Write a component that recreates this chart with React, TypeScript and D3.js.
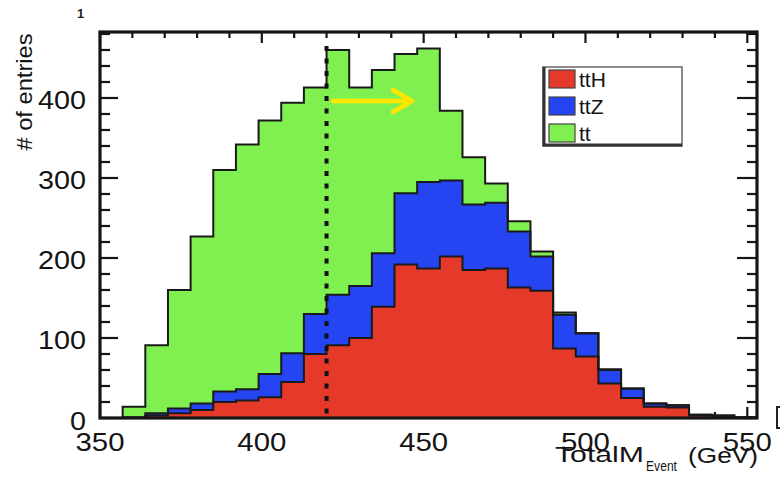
import React from "react";
import * as d3 from "d3";

// ---- data ----
const BIN_START = 350;
const BIN_WIDTH = 7;
const ttH = [0, 0, 3, 6, 10, 20, 22, 26, 45, 80, 91, 100, 139, 192, 187, 202, 185, 187, 163, 159, 87, 77, 43, 25, 14, 13, 3, 1, 0];
const ttZ = [0, 1, 3, 6, 8, 13, 14, 29, 36, 50, 63, 65, 67, 89, 108, 95, 82, 82, 70, 43, 42, 29, 17, 12, 4, 3, 1, 2, 1];
const tt = [0, 13, 85, 148, 209, 277, 306, 317, 313, 283, 306, 248, 229, 174, 167, 87, 59, 24, 13, 6, 3, 0, 1, 0, 0, 0, 0, 0, 0];
const SERIES_KEYS = ["ttH", "ttZ", "tt"];
const SERIES_COLORS = ["#e53a2a", "#2545f2", "#80ef50"];
const X_TICKS = [350, 400, 450, 500, 550];
const Y_TICKS = [0, 100, 200, 300, 400];
const CUT_VALUE = 420;
const X_DOMAIN = [350, 553];
const Y_DOMAIN = [0, 482.5];

const FONT = "'Liberation Sans', Arial, Helvetica, sans-serif";

export default function App() {
  const L = 100, R = 757, T = 32, B = 418;
  const x = d3.scaleLinear().domain(X_DOMAIN).range([L, R]);
  const y = d3.scaleLinear().domain(Y_DOMAIN).range([B, T]);

  const series: Record<string, number[]> = { ttH, ttZ, tt };
  const rows = ttH.map((_, i) => {
    const r: any = { x: BIN_START + i * BIN_WIDTH };
    SERIES_KEYS.forEach((k) => (r[k] = series[k][i]));
    return r;
  });
  const last = { ...rows[rows.length - 1], x: BIN_START + rows.length * BIN_WIDTH };
  const allRows = [...rows, last];
  const stacked = d3.stack<any>().keys(SERIES_KEYS)(allRows);

  const area = d3
    .area<any>()
    .x((d) => x(d.data.x))
    .y0((d) => y(d[0]))
    .y1((d) => y(d[1]))
    .curve(d3.curveStepAfter);
  const topLine = d3
    .line<any>()
    .x((d) => x(d.data.x))
    .y((d) => y(d[1]))
    .curve(d3.curveStepAfter);

  const xMinor = d3.range(350, 551, 10);
  const yMinor = d3.range(0, 481, 20);

  const axisColor = "#151515";
  const xc = x(CUT_VALUE);

  return (
    <svg width={780} height={481} style={{ position: "absolute", left: 0, top: 0, background: "#fff" }}>
      <rect x={0} y={0} width={780} height={481} fill="#fff" />
      {/* ticks (under the fill) */}
      <g stroke={axisColor} strokeWidth={2.2}>
        {xMinor.map((v) => {
          const major = v % 50 === 0;
          const len = major ? 11 : 6;
          return (
            <g key={"xt" + v}>
              <line x1={x(v)} x2={x(v)} y1={T} y2={T + len} />
              <line x1={x(v)} x2={x(v)} y1={B} y2={B - len} />
            </g>
          );
        })}
        {yMinor.map((v) => {
          const major = v % 100 === 0;
          return (
            <g key={"yt" + v}>
              <line x1={L} x2={L + (major ? 18 : 10)} y1={y(v)} y2={y(v)} />
              <line x1={R} x2={R - (major ? 20 : 10)} y1={y(v)} y2={y(v)} />
            </g>
          );
        })}
      </g>

      {/* stacked histogram */}
      {stacked.map((s, i) => (
        <path key={"a" + i} d={area(s) || ""} fill={SERIES_COLORS[i]} stroke="none" />
      ))}
      {stacked
        .slice()
        .reverse()
        .map((s, i) => (
          <path key={"l" + i} d={topLine(s) || ""} fill="none" stroke="#1a1a1a" strokeWidth={2} />
        ))}

      {/* cut line */}
      <line x1={xc} x2={xc} y1={46} y2={B} stroke="#111" strokeWidth={4} strokeDasharray="5,7.5" />

      {/* frame */}
      <rect x={L} y={T} width={R - L} height={B - T} fill="none" stroke={axisColor} strokeWidth={3.2} />

      {/* tick labels */}
      <g fontFamily={FONT} fontSize={26} fill="#141414">
        {Y_TICKS.map((v) => (
          <text
            key={"yl" + v}
            x={86}
            y={y(v) + (v === 0 ? 12 : 10.5)}
            textAnchor="end"
            textLength={String(v).length * 16}
            lengthAdjust="spacingAndGlyphs"
          >
            {v}
          </text>
        ))}
        {X_TICKS.map((v) => (
          <text
            key={"xl" + v}
            x={x(v)}
            y={450.5}
            textAnchor="middle"
            textLength={49}
            lengthAdjust="spacingAndGlyphs"
          >
            {v}
          </text>
        ))}
      </g>

      {/* axis titles */}
      <text
        transform="translate(32,92) rotate(-90)"
        fontFamily={FONT}
        fontSize={22}
        fill="#141414"
        textAnchor="middle"
        textLength={117}
        lengthAdjust="spacingAndGlyphs"
      >
        # of entries
      </text>
      <g fontFamily={FONT} fill="#141414">
        <text x={555} y={462} fontSize={22} textLength={89} lengthAdjust="spacingAndGlyphs">
          TotalM
        </text>
        <text x={646} y={470.5} fontSize={14} textLength={31} lengthAdjust="spacingAndGlyphs">
          Event
        </text>
        <text x={688} y={463} fontSize={22} textLength={70} lengthAdjust="spacingAndGlyphs">
          (GeV)
        </text>
      </g>

      {/* legend */}
      <rect x={543} y={67} width={139} height={79} fill="#fff" stroke="#666" strokeWidth={1.5} />
      <polyline points="544,67 544,145 682,145" fill="none" stroke="#333" strokeWidth={3} />
      {SERIES_KEYS.map((k, i) => (
        <g key={"lg" + k}>
          <rect x={549} y={70 + i * 27} width={26} height={18} fill={SERIES_COLORS[i]} stroke="#444" strokeWidth={1.2} />
          <text x={579} y={87 + i * 27} fontFamily={FONT} fontSize={21} fill="#141414">
            {k}
          </text>
        </g>
      ))}

      {/* yellow arrow */}
      <g stroke="#ffe600" strokeWidth={4.5} strokeLinecap="round" strokeLinejoin="round" fill="none">
        <line x1={333} y1={101} x2={410} y2={101} />
        <polyline points="393,90 412,101 393,112" />
      </g>

      {/* stray marks at the image edges */}
      <text x={77} y={18} fontFamily={FONT} fontSize={13} fontWeight="bold" fill="#222">
        1
      </text>
      <path d="M781,407 H777 V428 H781" fill="none" stroke="#222" strokeWidth={2} />
    </svg>
  );
}
